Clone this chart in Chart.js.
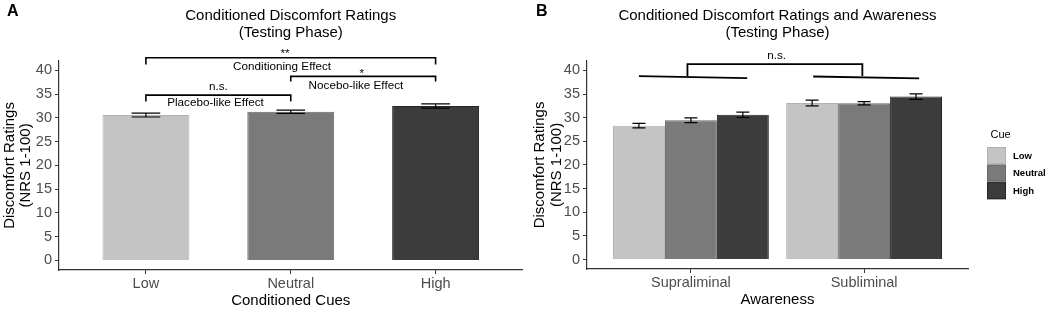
<!DOCTYPE html>
<html lang="en">
<head>
<meta charset="UTF-8">
<title>Conditioned Discomfort Ratings</title>
<script src="https://cdn.jsdelivr.net/npm/chart.js"></script>
<style>
    body { margin: 0; background: #fff; }
    #wrap { position: relative; width: 1047px; height: 311px; overflow: hidden; font-family: "Liberation Sans", Arial, sans-serif; }
    canvas { position: absolute; top: 0; }
    #chartA { left: 0; }
    #chartB { left: 530px; }
    .tag { position: absolute; top: 3px; font-weight: bold; font-size: 16px; line-height: 16px; color: #000; }
</style>
</head>
<body>
<div id="wrap">
    <canvas id="chartA" width="530" height="311"></canvas>
    <canvas id="chartB" width="517" height="311"></canvas>
    <div class="tag" style="left:7px">A</div>
    <div class="tag" style="left:536px">B</div>
</div>

<script>
    // ---- data ----
    var cueLabels = ['Low', 'Neutral', 'High'];
    var cueColors = ['#c4c4c4', '#7a7a7a', '#3c3c3c'];
    var cueBorders = ['#b2b2b2', '#686868', '#262626'];

    // panel A
    var cueMeans = [30.6, 31.3, 32.5];
    var cueErrors = [0.4, 0.35, 0.45];

    // panel B
    var awareLabels = ['Supraliminal', 'Subliminal'];
    var lowMeans = [28.3, 33.1];
    var lowErrors = [0.48, 0.6];
    var neutralMeans = [29.45, 33.05];
    var neutralErrors = [0.5, 0.35];
    var highMeans = [30.6, 34.45];
    var highErrors = [0.57, 0.57];

    var yTicks = [0, 5, 10, 15, 20, 25, 30, 35, 40];

    // significance brackets, in data units: [x1, x2, yLine, yLeg]
    var bracketsA = [[1, 3, 42.67, 41.26], [2, 3, 38.74, 37.68], [1, 2, 34.8, 33.47]];
    // [text, x, y baseline]
    var notesA = [
        ['**', 1.96, 42.86],
        ['Conditioning Effect', 1.94, 40.0],
        ['*', 2.49, 38.65],
        ['Nocebo-like Effect', 2.45, 36.1],
        ['n.s.', 1.5, 35.85],
        ['Placebo-like Effect', 1.48, 32.6]
    ];
    var bracketB = [0.98, 1.99, 41.3, 38.8];
    // [x1, y1, x2, y2]
    var groupLinesB = [[0.70, 38.8, 1.325, 38.37], [1.706, 38.7, 2.318, 38.3]];
    var notesB = [['n.s.', 1.495, 42.3]];

    var fontFamily = '"Liberation Sans", Arial, sans-serif';

    function xAxis(labels, titleText, height, titlePad) {
        return {
            type: 'linear',
            offset: false,
            min: 0.4,
            max: labels.length + 0.6,
            afterBuildTicks: function (s) {
                s.ticks = labels.map(function (l, i) { return { value: i + 1 }; });
            },
            afterFit: function (s) { s.height = height; },
            grid: { display: true, drawOnChartArea: false, drawTicks: true, tickLength: 4, tickColor: '#333', offset: false },
            border: { display: true, color: '#333', width: 1.2 },
            ticks: {
                color: '#4d4d4d', padding: 1, autoSkip: false, maxRotation: 0,
                font: { family: fontFamily, size: 14.5 },
                callback: function (v) { return labels[Math.round(v) - 1]; }
            },
            title: {
                display: true, text: titleText, color: '#000',
                font: { family: fontFamily, size: 15, lineHeight: 1.2 },
                padding: { top: 0, bottom: titlePad }
            }
        };
    }

    function yAxis(width, titlePad) {
        return {
            min: -2,
            max: 42,
            afterBuildTicks: function (s) {
                s.ticks = yTicks.map(function (v) { return { value: v }; });
            },
            afterFit: function (s) { s.width = width; },
            grid: { display: true, drawOnChartArea: false, drawTicks: true, tickLength: 4, tickColor: '#333' },
            border: { display: true, color: '#333', width: 1.2 },
            ticks: { color: '#4d4d4d', padding: 3, font: { family: fontFamily, size: 14.5 } },
            title: {
                display: true, text: ['Discomfort Ratings', '(NRS 1-100)'], color: '#000',
                font: { family: fontFamily, size: 15, lineHeight: 1.1 },
                padding: { top: titlePad, bottom: 0 }
            }
        };
    }

    function titleOpts(lines) {
        return {
            display: true, text: lines, color: '#000', fullSize: false,
            font: { family: fontFamily, size: 15, weight: 'normal', lineHeight: 1.13 },
            padding: { top: 7.5, bottom: 19.5 }
        };
    }

    var errorBars = {
        id: 'errorBars',
        afterDatasetsDraw: function (chart) {
            var ctx = chart.ctx;
            var y = chart.scales.y;
            chart.data.datasets.forEach(function (ds, di) {
                var meta = chart.getDatasetMeta(di);
                meta.data.forEach(function (bar, i) {
                    var m = ds.data[i].y, e = ds.errors[i];
                    var top = y.getPixelForValue(m + e);
                    var bot = y.getPixelForValue(m - e);
                    var half = bar.width * ds.capRatio / 2;
                    ctx.save();
                    ctx.strokeStyle = '#000';
                    ctx.lineWidth = 1.2;
                    ctx.beginPath();
                    ctx.moveTo(bar.x, top); ctx.lineTo(bar.x, bot);
                    ctx.moveTo(bar.x - half, top); ctx.lineTo(bar.x + half, top);
                    ctx.moveTo(bar.x - half, bot); ctx.lineTo(bar.x + half, bot);
                    ctx.stroke();
                    ctx.restore();
                });
            });
        }
    };

    function drawNotes(chart, notes) {
        var ctx = chart.ctx, xs = chart.scales.x, ys = chart.scales.y;
        ctx.save();
        ctx.fillStyle = '#000';
        ctx.font = '11.7px ' + fontFamily;
        ctx.textAlign = 'center';
        ctx.textBaseline = 'alphabetic';
        notes.forEach(function (n) {
            ctx.fillText(n[0], xs.getPixelForValue(n[1]), ys.getPixelForValue(n[2]));
        });
        ctx.restore();
    }

    var annotA = {
        id: 'annotA',
        afterDraw: function (chart) {
            var ctx = chart.ctx, xs = chart.scales.x, ys = chart.scales.y;
            ctx.save();
            ctx.strokeStyle = '#000';
            ctx.lineWidth = 1.6;
            bracketsA.forEach(function (b) {
                var x1 = xs.getPixelForValue(b[0]), x2 = xs.getPixelForValue(b[1]);
                var yl = ys.getPixelForValue(b[2]), yg = ys.getPixelForValue(b[3]);
                ctx.beginPath();
                ctx.moveTo(x1, yg); ctx.lineTo(x1, yl); ctx.lineTo(x2, yl); ctx.lineTo(x2, yg);
                ctx.stroke();
            });
            ctx.restore();
            drawNotes(chart, notesA);
        }
    };

    var annotB = {
        id: 'annotB',
        afterDraw: function (chart) {
            var ctx = chart.ctx, xs = chart.scales.x, ys = chart.scales.y;
            ctx.save();
            ctx.strokeStyle = '#000';
            ctx.lineWidth = 1.8;
            var x1 = xs.getPixelForValue(bracketB[0]), x2 = xs.getPixelForValue(bracketB[1]);
            var yl = ys.getPixelForValue(bracketB[2]), yg = ys.getPixelForValue(bracketB[3]);
            ctx.beginPath();
            ctx.moveTo(x1, yg); ctx.lineTo(x1, yl); ctx.lineTo(x2, yl); ctx.lineTo(x2, yg);
            groupLinesB.forEach(function (g) {
                ctx.moveTo(xs.getPixelForValue(g[0]), ys.getPixelForValue(g[1]));
                ctx.lineTo(xs.getPixelForValue(g[2]), ys.getPixelForValue(g[3]));
            });
            ctx.stroke();
            ctx.restore();
            drawNotes(chart, notesB);

            // legend (ggplot style, right side)
            var kx = 457, ky = 147, kw = 19, kh = 17, step = 17.6;
            ctx.save();
            ctx.fillStyle = '#000';
            ctx.font = '11px ' + fontFamily;
            ctx.textAlign = 'left';
            ctx.textBaseline = 'middle';
            ctx.fillText('Cue', 460.5, 135);
            ctx.font = 'bold 9.5px ' + fontFamily;
            chart.data.datasets.forEach(function (ds, i) {
                var top = ky + i * step;
                ctx.fillStyle = ds.backgroundColor;
                ctx.fillRect(kx, top, kw, kh);
                ctx.strokeStyle = ds.borderColor;
                ctx.lineWidth = 1;
                ctx.strokeRect(kx + 0.5, top + 0.5, kw - 1, kh - 1);
                ctx.fillStyle = '#000';
                ctx.fillText(ds.label, kx + 26, top + kh / 2 + 0.5);
            });
            ctx.restore();
        }
    };

    // ---- panel A ----
    new Chart(document.getElementById('chartA').getContext('2d'), {
        type: 'bar',
        data: {
            datasets: [{
                label: 'Cue',
                data: cueMeans.map(function (v, i) { return { x: i + 1, y: v }; }),
                errors: cueErrors,
                capRatio: 0.33,
                backgroundColor: cueColors,
                borderColor: cueBorders,
                borderWidth: 1,
                barPercentage: 0.6,
                categoryPercentage: 1
            }]
        },
        options: {
            responsive: false,
            animation: false,
            layout: { padding: { left: 0, right: 7.5, top: 0, bottom: 0 } },
            scales: {
                x: xAxis(cueLabels, 'Conditioned Cues', 41, 1),
                y: yAxis(59, 1.25)
            },
            plugins: {
                legend: { display: false },
                tooltip: { enabled: false },
                title: titleOpts(['Conditioned Discomfort Ratings', '(Testing Phase)'])
            }
        },
        plugins: [errorBars, annotA]
    });

    // ---- panel B ----
    function groupSet(name, idx, means, errs) {
        return {
            label: name,
            data: means.map(function (v, i) { return { x: i + 1, y: v }; }),
            errors: errs,
            capRatio: 0.25,
            backgroundColor: cueColors[idx],
            borderColor: cueBorders[idx],
            borderWidth: 1,
            barPercentage: 1,
            categoryPercentage: 0.9
        };
    }

    new Chart(document.getElementById('chartB').getContext('2d'), {
        type: 'bar',
        data: {
            datasets: [
                groupSet(cueLabels[0], 0, lowMeans, lowErrors),
                groupSet(cueLabels[1], 1, neutralMeans, neutralErrors),
                groupSet(cueLabels[2], 2, highMeans, highErrors)
            ]
        },
        options: {
            responsive: false,
            animation: false,
            layout: { padding: { left: 0, right: 79, top: 0, bottom: 0 } },
            scales: {
                x: xAxis(awareLabels, 'Awareness', 42, 2.5),
                y: yAxis(57, 1.75)
            },
            plugins: {
                legend: { display: false },
                tooltip: { enabled: false },
                title: titleOpts(['Conditioned Discomfort Ratings and Awareness', '(Testing Phase)'])
            }
        },
        plugins: [errorBars, annotB]
    });
</script>
</body>
</html>
